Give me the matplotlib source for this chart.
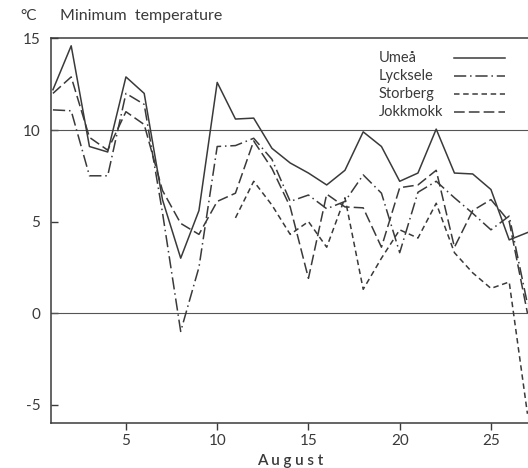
import numpy as np
import matplotlib.pyplot as plt

nan = np.nan

days = list(range(1, 28))
umea = [12.2, 14.6, 9.1, 8.8, 12.9, 12.0, 6.2, 3.0, 5.6, 12.6,
        10.6, 10.65, 9.0, 8.2, 7.65, 7.0, 7.8, 9.9, 9.1, 7.2,
        7.65, 10.05, 7.65, 7.6, 6.75, 4.0, 4.4]
lycksele = [11.1, 11.05, 7.5, 7.5, 12.0, 11.4, 5.5, -1.0, 2.5, 9.1,
            9.15, 9.55, 8.4, 6.1, 6.45, 5.7, 6.1, 7.55, 6.55, 3.3,
            6.6, 7.2, 6.3, 5.45, 4.55, 5.3, 0.5]
storberg = [nan] * 10 + [5.2, 7.2, 5.9, 4.3, 5.0, 3.6, 6.3, 1.3, 3.0, 4.55,
                         4.1, 6.0, 3.3, 2.2, 1.35, 1.7, -5.5]
jokkmokk = [12.0, 12.9, 9.6, 8.9, 11.0, 10.3, 6.7, 4.9, 4.3, 6.1,
            6.55, 9.4, 7.9, 5.8, 1.9, 6.5, 5.8, 5.75, 3.6, 6.85,
            7.0, 7.8, 3.6, 5.6, 6.2, 5.0, 0.0]

names = ["Umeå", "Lycksele", "Storberg", "Jokkmokk"]
series = [umea, lycksele, storberg, jokkmokk]
dashes = [None, (8, 2.5, 1, 2.5), (3.6, 2.4), (7, 2.7)]

xticks = [5, 10, 15, 20, 25]
yticks = [-5, 0, 5, 10, 15]

plt.rcParams['font.family'] = ['Lato', 'DejaVu Sans']
plt.rcParams['axes.unicode_minus'] = False
ink = "#3a3a3a"

fig = plt.figure(figsize=(5.28, 4.68), dpi=100)
ax = fig.add_axes([0.0975, 0.0962, 0.9025, 0.8216])

ax.axhline(0, color="#555555", lw=0.8)
ax.axhline(10, color="#555555", lw=0.8)

for name, vals, d in zip(names, series, dashes):
    line, = ax.plot(days, vals, color=ink, lw=1.1)
    if d is not None:
        line.set_dashes(d)

# legend: labels left, line samples right
for i, (name, d) in enumerate(zip(names, dashes)):
    y = 0.95 - i * 0.0475
    ax.text(0.687, y, name, transform=ax.transAxes, fontsize=10.5,
            color=ink, va="center", ha="left")
    line, = ax.plot([0.845, 0.952], [y, y], transform=ax.transAxes,
                    color=ink, lw=1.1)
    if d is not None:
        line.set_dashes(d)

ax.set_xlim(0.92, 27.03)
ax.set_ylim(-6, 15)
ax.set_xticks(xticks)
ax.set_yticks(yticks)
ax.tick_params(axis="y", direction="in", length=5, pad=8, labelsize=11,
               colors=ink, width=1)
ax.tick_params(axis="x", direction="out", length=5, pad=3, labelsize=11,
               colors=ink, width=1)

for s in ["left", "top", "bottom"]:
    ax.spines[s].set_color(ink)
    ax.spines[s].set_linewidth(1.1)
ax.spines["right"].set_visible(False)

fig.text(0.038, 0.965, "°C", fontsize=11, color=ink, va="center")
fig.text(0.113, 0.965, "Minimum  temperature", fontsize=11.5, color=ink,
         va="center")
ax.set_xlabel("A u g u s t", fontsize=11, color=ink, labelpad=4,
              fontweight="semibold")

fig.savefig("out.png", dpi=100)
